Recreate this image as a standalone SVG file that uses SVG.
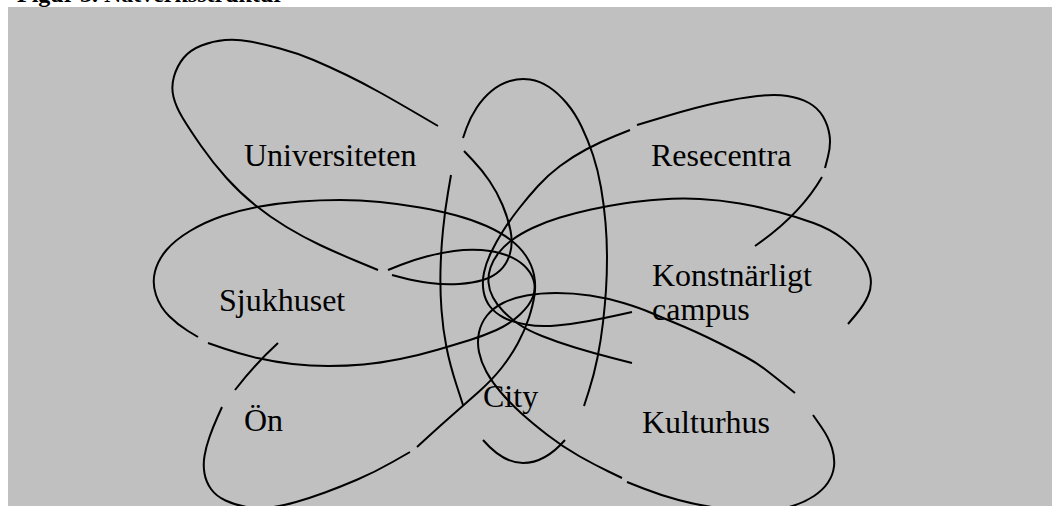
<svg xmlns="http://www.w3.org/2000/svg" width="1052" height="506" viewBox="0 0 1052 506">
  <style>
    .ln { fill: none; stroke: #000; stroke-width: 2; stroke-linecap: butt; stroke-linejoin: round; }
    .lbl { font-family: "Liberation Serif", "Times New Roman", serif; font-size: 32px; fill: #000; }
    .cap { font-family: "Liberation Serif", "Times New Roman", serif; font-size: 24px; font-weight: bold; fill: #000; }
  </style>
  <rect x="0" y="0" width="1052" height="506" fill="#ffffff"/>
  <text class="cap" x="17" y="2">Figur 3. Nätverksstruktur</text>
  <rect x="8" y="7" width="1044" height="499" fill="#c0c0c0"/>

  <g id="universiteten">
    <path class="ln" d="M438,126 L417.5,114 Q397,102 380,92.5 Q363,83 346.5,75 Q330,67 313.5,60 Q297,53 280,48.5 Q263,44 250,41.5 Q237,39 225,40 Q213,41 201.5,45.5 Q190,50 183.5,58 Q177,66 174,76.5 Q171,87 173.5,97 Q176,107 183,118.5 Q190,130 201.5,146.5 Q213,163 226.5,178 Q240,193 255,205 Q270,217 286.5,227 Q303,237 320,245 Q337,253 357.5,261.5 L378,270"/>
    <path class="ln" d="M464,151 L473,160.5 Q482,170 489.5,181 Q497,192 502.5,205 Q508,218 510.5,230.5 Q513,243 510,253.5 Q507,264 500,270.5 Q493,277 483,280 Q473,283 459,284 Q445,285 430,283 Q415,281 403.5,278 L392,275"/>
    <text class="lbl" x="244" y="166">Universiteten</text>
  </g>

  <g id="city">
    <path class="ln" d="M463,138 L466.5,128 Q470,118 476.5,108 Q483,98 491.5,91 Q500,84 510,81 Q520,78 530,79.5 Q540,81 549,87 Q558,93 566.5,103 Q575,113 581.5,126.5 Q588,140 593,155 Q598,170 601,187.5 Q604,205 605.5,222.5 Q607,240 607,257.5 Q607,275 606,290 Q605,305 603,322.5 Q601,340 597.5,357.5 Q594,375 589,390.5 L584,406"/>
    <path class="ln" d="M451,175 L448,192.5 Q445,210 443,230 Q441,250 440.5,270 Q440,290 441.5,310 Q443,330 446.5,347.5 Q450,365 456.5,385 L463,405"/>
    <path class="ln" d="M483,440 Q503,463 523,463 Q545,463 565,440"/>
    <text class="lbl" x="483" y="407">City</text>
  </g>

  <g id="resecentra">
    <path class="ln" d="M630,130 L615,136 Q600,142 586,149.5 Q572,157 560,166 Q548,175 538,186 Q528,197 519,208.5 Q510,220 503,231 Q496,242 491,252.5 Q486,263 484,272.5 Q482,282 483.5,291 Q485,300 490,306.5 Q495,313 503.5,317.5 Q512,322 526,324.5 Q540,327 556.5,325.5 Q573,324 589,321 Q605,318 618.5,315 L632,312"/>
    <path class="ln" d="M637,125 L667,116 Q697,107 718.5,102.5 Q740,98 757.5,96 Q775,94 787.5,96 Q800,98 809,103 Q818,108 823,116.5 Q828,125 829.5,135 Q831,145 828,156.5 L825,168"/>
    <path class="ln" d="M822,177 Q800,215 755,246"/>
    <text class="lbl" x="651" y="166">Resecentra</text>
  </g>

  <g id="konstnarligt-campus">
    <path class="ln" d="M632,363 L612.5,358 Q593,353 575,347.5 Q557,342 542,336 Q527,330 518.5,324 Q510,318 503.5,311.5 Q497,305 493,297.5 Q489,290 488.5,282.5 Q488,275 490.5,267.5 Q493,260 498.5,253 Q504,246 512,240 Q520,234 532.5,228 Q545,222 560,217.5 Q575,213 591,209.5 Q607,206 623.5,203.5 Q640,201 660,199.5 Q680,198 700,199 Q720,200 740,203.5 Q760,207 778.5,212 Q797,217 813.5,223 Q830,229 842.5,238.5 Q855,248 862,258 Q869,268 870.5,277.5 Q872,287 868,296 Q864,305 856,314.5 L848,324"/>
    <text class="lbl" x="652" y="286">Konstnärligt</text>
    <text class="lbl" x="652" y="320">campus</text>
  </g>

  <g id="kulturhus">
    <path class="ln" d="M795,393 L785,385 Q775,377 766,370 Q757,363 745,356.5 Q733,350 720,343.5 Q707,337 696,332 Q685,327 674,322.5 Q663,318 651.5,313 Q640,308 623.5,303 Q607,298 590,295.5 Q573,293 556.5,293 Q540,293 526.5,295.5 Q513,298 503,303 Q493,308 487,315.5 Q481,323 479,332.5 Q477,342 479,352 Q481,362 486.5,372 Q492,382 501,392.5 Q510,403 521,413 Q532,423 547.5,435 Q563,447 579,456 Q595,465 608.5,471.5 L622,478"/>
    <path class="ln" d="M627,482 L643.5,488.5 Q660,495 678.5,500 Q697,505 718.5,508 Q740,511 760,510.5 Q780,510 792.5,506 Q805,502 814,496 Q823,490 828,482.5 Q833,475 834,466.5 Q835,458 832,448 Q829,438 821,426.5 L813,415"/>
    <text class="lbl" x="642" y="433">Kulturhus</text>
  </g>

  <g id="sjukhuset">
    <text class="lbl" x="219" y="311">Sjukhuset</text>
  </g>

  <g id="on">
    <path class="ln" d="M278,343 Q255,364 235,390"/>
    <path class="ln" d="M222,407 L217.5,417 Q213,427 209.5,437 Q206,447 204.5,456 Q203,465 204.5,473.5 Q206,482 211,489 Q216,496 225.5,500.5 Q235,505 246.5,507 Q258,509 270,507.5 Q282,506 296,502 Q310,498 325,492.5 Q340,487 357.5,479.5 Q375,472 392.5,462 L410,452"/>
    <text class="lbl" x="244" y="431">Ön</text>
  </g>

  <g id="connectors">
    <path class="ln" d="M198,337 L188,331 Q178,325 169,316 Q160,307 156,295 Q152,283 155,271.5 Q158,260 166.5,250 Q175,240 190,231 Q205,222 222.5,216 Q240,210 260,206.5 Q280,203 300,201.5 Q320,200 340,200 Q360,200 380,202 Q400,204 420,207.5 Q440,211 456.5,215.5 Q473,220 486.5,226 Q500,232 510,239.5 Q520,247 526,256 Q532,265 534,275 Q536,285 534.5,295 Q533,305 529,317.5 Q525,330 518,343 Q511,356 501.5,368 Q492,380 478.5,392 Q465,404 453,414.5 Q441,425 429,436 L417,447"/>
    <path class="ln" d="M388,270 L400.5,265 Q413,260 426.5,256.5 Q440,253 454,251 Q468,249 481.5,250 Q495,251 506,255 Q517,259 524,265.5 Q531,272 533.5,280 Q536,288 533,296.5 Q530,305 520,314.5 Q510,324 496.5,330 Q483,336 470,340 Q457,344 438.5,349.5 Q420,355 400,359 Q380,363 363.5,364.5 Q347,366 328.5,366 Q310,366 292.5,364 Q275,362 257.5,358 Q240,354 224,348.5 L208,343"/>
  </g>
</svg>
